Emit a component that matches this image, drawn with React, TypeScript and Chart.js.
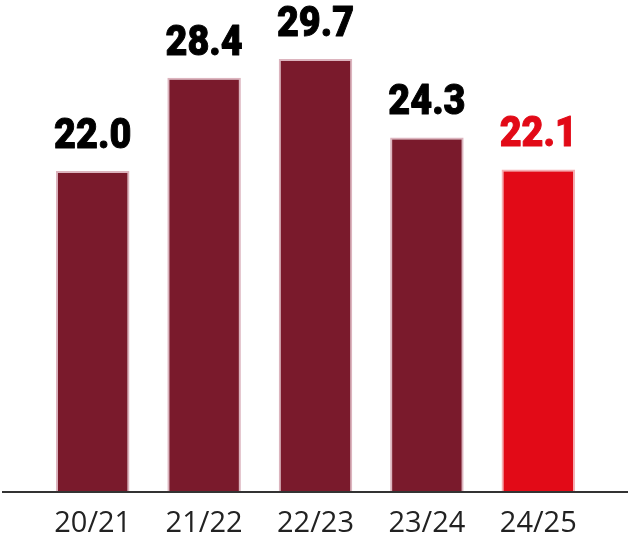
import { useEffect, useRef } from 'react';
import { Chart, registerables, Plugin } from 'chart.js';

Chart.register(...registerables);

const seasons = ['20/21', '21/22', '22/23', '23/24', '24/25'];
const values = [22.0, 28.4, 29.7, 24.3, 22.1];

const MAROON = '#7a1a2c';
const RED = '#e20a17';

// value labels above bars + the long baseline
const barLabels: Plugin<'bar'> = {
  id: 'barLabels',
  afterDatasetsDraw(chart) {
    const { ctx } = chart;
    const meta = chart.getDatasetMeta(0);
    const yScale = chart.scales.y;
    const zeroY = yScale.getPixelForValue(0);

    ctx.save();
    ctx.strokeStyle = '#333';
    ctx.lineWidth = 2;
    ctx.beginPath();
    ctx.moveTo(2, zeroY + 1);
    ctx.lineTo(628, zeroY + 1);
    ctx.stroke();

    ctx.font = '900 42px Roboto';
    ctx.textAlign = 'center';
    ctx.textBaseline = 'alphabetic';
    ctx.lineJoin = 'round';
    meta.data.forEach((bar, i) => {
      const last = i === values.length - 1;
      const text = values[i].toFixed(1);
      const color = last ? RED : '#000';
      ctx.save();
      ctx.translate(bar.x, bar.y - 23);
      ctx.scale(0.9, 1);
      ctx.strokeStyle = '#fff';
      ctx.lineWidth = 5;
      ctx.strokeText(text, 0, 0);
      ctx.fillStyle = color;
      ctx.fillText(text, 0, 0);
      ctx.strokeStyle = color;
      ctx.lineWidth = 1;
      ctx.strokeText(text, 0, 0);
      ctx.restore();
    });
    ctx.restore();
  },
};

export default function App() {
  const canvasRef = useRef<HTMLCanvasElement>(null);
  const chartRef = useRef<Chart | null>(null);

  useEffect(() => {
    if (!canvasRef.current) return;
    if (chartRef.current) chartRef.current.destroy();

    const ctx = canvasRef.current.getContext('2d');
    if (!ctx) return;

    chartRef.current = new Chart(ctx, {
      type: 'bar',
      data: {
        labels: seasons,
        datasets: [{
          data: values,
          backgroundColor: values.map((_, i) => (i === values.length - 1 ? RED : MAROON)),
          borderColor: values.map((_, i) => (i === values.length - 1 ? '#f5b0b4' : '#dcb4be')),
          borderWidth: 2,
          categoryPercentage: 1,
          barPercentage: 0.66,
        }],
      },
      options: {
        responsive: true,
        maintainAspectRatio: false,
        animation: false,
        layout: { padding: { left: 37, right: 36, top: 0, bottom: 0 } },
        plugins: {
          legend: { display: false },
          tooltip: { enabled: false },
        },
        scales: {
          x: {
            grid: { display: false, drawTicks: false },
            border: { display: false },
            ticks: {
              color: '#222',
              padding: 15,
              font: { family: '"Open Sans"', size: 29 },
            },
            afterFit: (scale) => {
              scale.height = 49;
            },
          },
          y: {
            display: false,
            min: 0,
            max: 33.75,
          },
        },
      },
      plugins: [barLabels],
    });

    return () => {
      if (chartRef.current) chartRef.current.destroy();
    };
  }, []);

  return (
    <div style={{ position: 'fixed', left: 0, top: 0, width: 630, height: 540, background: '#fff' }}>
      <canvas ref={canvasRef} />
    </div>
  );
}
